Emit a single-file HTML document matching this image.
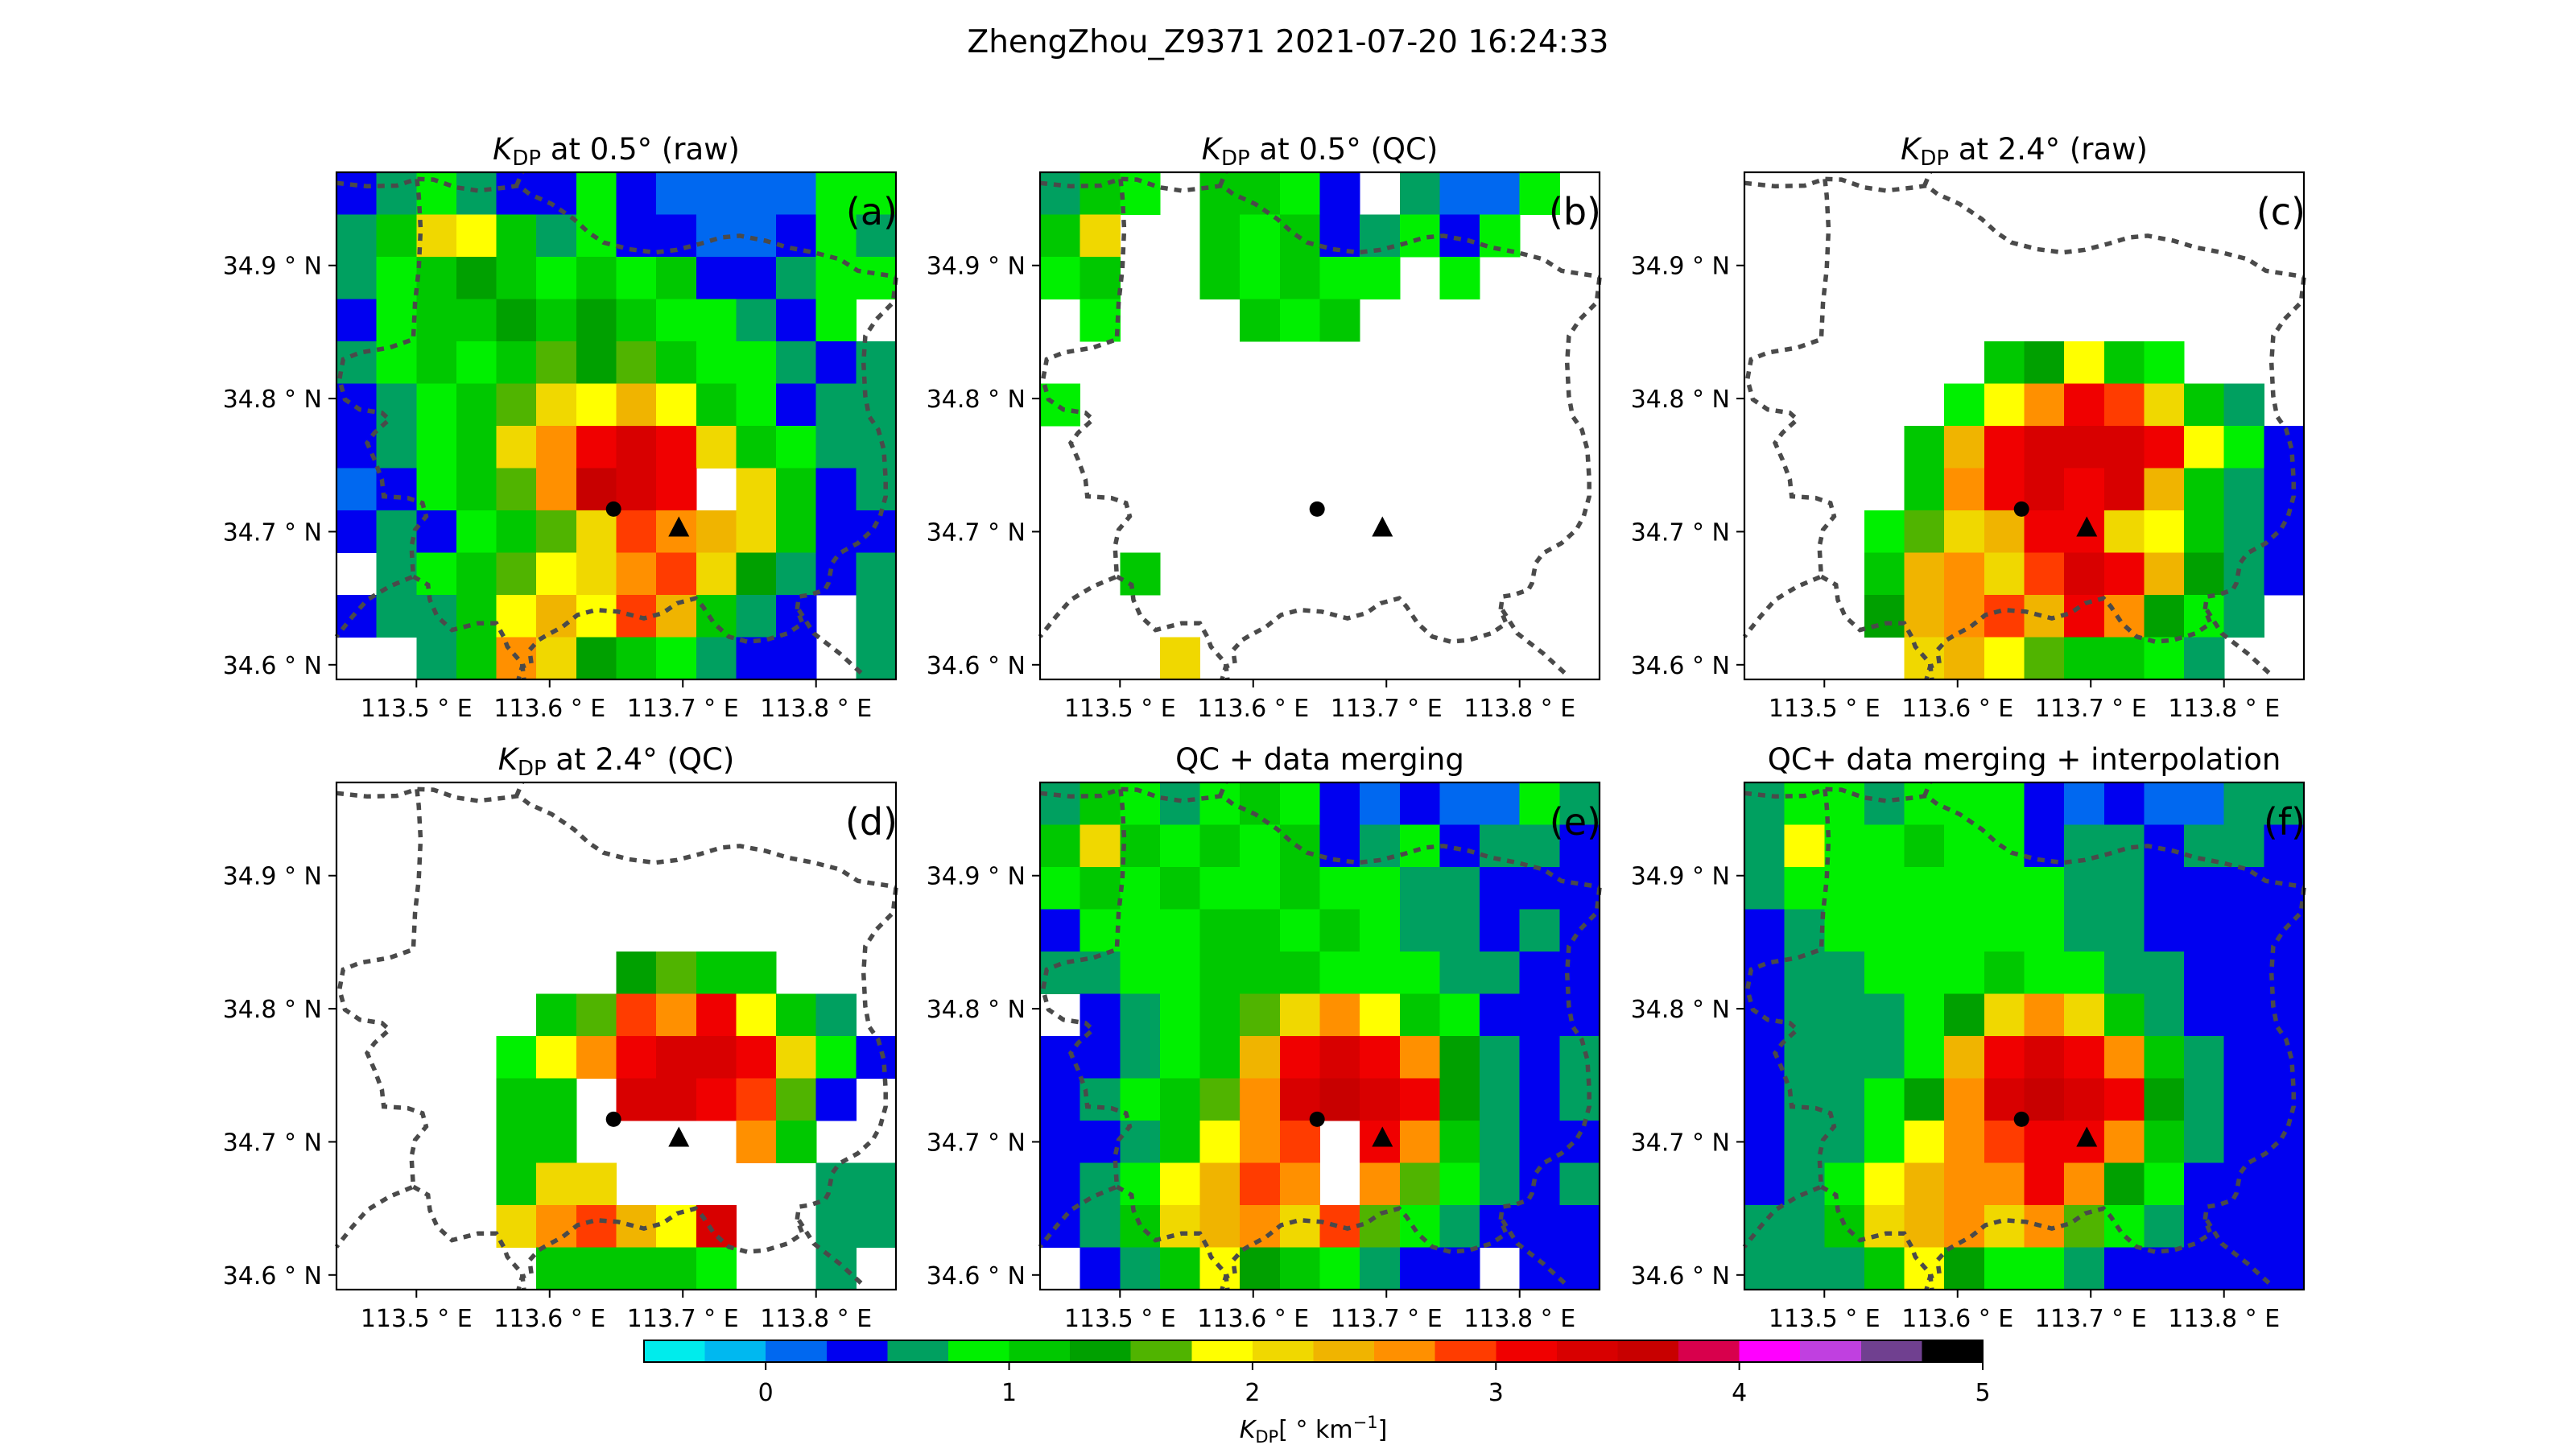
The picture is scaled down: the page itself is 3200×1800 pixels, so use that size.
<!DOCTYPE html>
<html><head><meta charset="utf-8"><style>
html,body{margin:0;padding:0;background:#fff}
svg{display:block;font-family:"DejaVu Sans","Liberation Sans",sans-serif}
</style></head><body>
<svg id="fig" width="3200" height="1800" viewBox="0 0 3200 1800" xmlns="http://www.w3.org/2000/svg">
<rect width="3200" height="1800" fill="#fff"/>
<text x="1600" y="65" font-size="39" text-anchor="middle">ZhengZhou_Z9371 2021-07-20 16:24:33</text>
<g id="panels"></g>
<g id="cbar"></g>
</svg>
<script>
const n = null;
const levels = [-0.5,-0.25,0,0.25,0.5,0.75,1,1.25,1.5,1.75,2,2.25,2.5,2.75,3,3.25,3.5,3.75,4,4.25,4.5,4.75,5];
const cmapColors = ["#00ecec","#00b8f0","#0068f0","#0000f0","#00a060","#00f000","#00c800","#00a000","#50b400","#ffff00","#f0d800","#f0b400","#ff9000","#ff3c00","#f00000","#d80000","#c80000","#d8004c","#ff00ff","#c040e0","#704090","#000000"];
const cbarTicks = [0,1,2,3,4,5];
const lonTicks = [113.5,113.6,113.7,113.8];
const latTicks = [34.6,34.7,34.8,34.9];
const lonRange = [113.44,113.86];
const latRange = [34.589,34.970];
const radarCircle = [113.648,34.717];
const radarTriangle = [113.697,34.703];

const gridA = [
[0.3,0.6,0.9,0.6,0.3,0.3,0.9,0.3,0.1,0.1,0.1,0.1,0.9,0.9],
[0.6,1.0,2.0,1.9,1.0,0.6,0.9,0.3,0.3,0.1,0.1,0.3,0.9,0.6],
[0.6,0.9,1.1,1.4,1.1,0.9,1.1,0.9,1.0,0.3,0.3,0.6,0.9,0.9],
[0.3,0.9,1.1,1.1,1.4,1.1,1.4,1.1,0.9,0.9,0.6,0.3,0.9,n],
[0.6,0.9,1.1,0.9,1.1,1.6,1.4,1.6,1.1,0.9,0.9,0.6,0.3,0.6],
[0.3,0.6,0.9,1.1,1.6,2.1,1.9,2.4,1.9,1.1,0.9,0.3,0.6,0.6],
[0.3,0.6,0.9,1.1,2.1,2.5,3.1,3.3,3.0,2.2,1.1,0.9,0.6,0.6],
[0.1,0.3,0.9,1.1,1.6,2.6,3.5,3.3,3.0,n,2.0,1.1,0.3,0.6],
[0.3,0.6,0.3,0.9,1.1,1.6,2.0,2.9,2.6,2.4,2.0,1.1,0.3,0.3],
[n,0.6,0.9,1.1,1.6,1.9,2.1,2.6,2.9,2.1,1.4,0.6,0.3,0.6],
[0.3,0.6,0.6,1.1,1.9,2.4,1.9,2.9,2.4,1.1,0.6,0.3,n,0.6],
[n,n,0.6,1.1,2.6,2.2,1.4,1.1,0.9,0.6,0.3,0.3,n,0.6]];
const gridB = [
[0.6,1.0,0.9,n,1.1,1.0,0.9,0.3,n,0.6,0.1,0.1,0.9,n],
[1.0,2.0,n,n,1.1,0.9,1.1,0.3,0.6,0.9,0.3,0.9,n,n],
[0.9,1.1,n,n,1.1,0.9,1.1,0.9,0.9,n,0.9,n,n,n],
[n,0.9,n,n,n,1.1,0.9,1.0,n,n,n,n,n,n],
[n,n,n,n,n,n,n,n,n,n,n,n,n,n],
[0.9,n,n,n,n,n,n,n,n,n,n,n,n,n],
[n,n,n,n,n,n,n,n,n,n,n,n,n,n],
[n,n,n,n,n,n,n,n,n,n,n,n,n,n],
[n,n,n,n,n,n,n,n,n,n,n,n,n,n],
[n,n,1.1,n,n,n,n,n,n,n,n,n,n,n],
[n,n,n,n,n,n,n,n,n,n,n,n,n,n],
[n,n,n,2.1,n,n,n,n,n,n,n,n,n,n]];
const gridC = [
[n,n,n,n,n,n,n,n,n,n,n,n,n,n],
[n,n,n,n,n,n,n,n,n,n,n,n,n,n],
[n,n,n,n,n,n,n,n,n,n,n,n,n,n],
[n,n,n,n,n,n,n,n,n,n,n,n,n,n],
[n,n,n,n,n,n,1.1,1.4,1.9,1.1,0.9,n,n,n],
[n,n,n,n,n,0.9,1.9,2.6,3.1,2.9,2.1,1.1,0.6,n],
[n,n,n,n,1.1,2.4,3.1,3.3,3.3,3.4,3.0,1.9,0.9,0.3],
[n,n,n,n,1.1,2.6,3.1,3.4,3.1,3.3,2.4,1.1,0.6,0.3],
[n,n,n,0.9,1.6,2.1,2.4,3.1,3.0,2.1,1.9,1.1,0.6,0.3],
[n,n,n,1.1,2.4,2.6,2.1,2.9,3.4,3.1,2.4,1.4,0.6,0.3],
[n,n,n,1.4,2.4,2.6,2.9,2.4,3.1,2.6,1.4,0.9,0.6,n],
[n,n,n,n,2.1,2.4,1.9,1.6,1.1,1.1,0.9,0.6,n,n]];
const gridD = [
[n,n,n,n,n,n,n,n,n,n,n,n,n,n],
[n,n,n,n,n,n,n,n,n,n,n,n,n,n],
[n,n,n,n,n,n,n,n,n,n,n,n,n,n],
[n,n,n,n,n,n,n,n,n,n,n,n,n,n],
[n,n,n,n,n,n,n,1.4,1.6,1.1,1.1,n,n,n],
[n,n,n,n,n,1.1,1.6,2.9,2.6,3.0,1.9,1.1,0.6,n],
[n,n,n,n,0.9,1.9,2.6,3.1,3.3,3.4,3.1,2.2,0.9,0.3],
[n,n,n,n,1.0,1.1,n,3.4,3.3,3.0,2.9,1.6,0.3,n],
[n,n,n,n,1.1,1.1,n,n,n,n,2.6,1.1,n,n],
[n,n,n,n,1.1,2.1,2.2,n,n,n,n,n,0.6,0.6],
[n,n,n,n,2.2,2.6,2.9,2.4,1.9,3.3,n,n,0.6,0.6],
[n,n,n,n,n,1.1,1.0,1.1,1.1,0.9,n,n,0.6,n]];
const gridE = [
[0.6,1.0,0.9,0.6,0.9,1.0,0.9,0.3,0.1,0.3,0.1,0.1,0.9,0.6],
[1.0,2.0,1.0,0.9,1.1,0.9,1.1,0.3,0.6,0.9,0.3,0.6,0.6,0.3],
[0.9,1.1,0.9,1.1,0.9,0.9,1.1,0.9,0.9,0.6,0.6,0.3,0.3,0.3],
[0.3,0.9,0.9,0.9,1.1,1.1,0.9,1.0,0.9,0.6,0.6,0.3,0.6,0.3],
[0.6,0.6,0.9,0.9,1.1,1.1,1.1,0.9,0.9,0.9,0.6,0.6,0.3,0.3],
[n,0.3,0.6,0.9,1.1,1.6,2.1,2.6,1.9,1.1,0.9,0.3,0.3,0.3],
[0.3,0.3,0.6,0.9,1.1,2.4,3.1,3.3,3.1,2.6,1.4,0.6,0.3,0.6],
[0.3,0.6,0.9,1.1,1.6,2.6,3.3,3.6,3.3,3.0,1.4,0.6,0.3,0.6],
[0.3,0.3,0.6,1.1,1.9,2.6,2.9,n,3.1,2.6,1.1,0.6,0.3,0.3],
[0.3,0.6,0.9,1.9,2.4,2.9,2.6,n,2.6,1.6,0.9,0.6,0.3,0.6],
[0.3,0.6,1.1,2.1,2.4,2.6,2.1,2.9,1.6,0.9,0.6,0.3,0.3,0.3],
[n,0.3,0.6,1.1,1.9,1.4,1.1,0.9,0.6,0.3,0.3,n,0.3,0.3]];
const gridF = [
[0.6,0.9,0.9,0.6,0.9,0.9,0.9,0.3,0.1,0.3,0.1,0.1,0.6,0.6],
[0.6,1.9,0.9,0.9,1.1,0.9,0.9,0.3,0.6,0.6,0.3,0.6,0.6,0.3],
[0.6,0.9,0.9,0.9,0.9,0.9,0.9,0.9,0.6,0.6,0.3,0.3,0.3,0.3],
[0.3,0.6,0.9,0.9,0.9,0.9,0.9,0.9,0.6,0.6,0.3,0.3,0.3,0.3],
[0.3,0.6,0.6,0.9,0.9,0.9,1.1,0.9,0.9,0.6,0.6,0.3,0.3,0.3],
[0.3,0.6,0.6,0.6,0.9,1.4,2.1,2.6,2.1,1.1,0.6,0.3,0.3,0.3],
[0.3,0.6,0.6,0.6,0.9,2.4,3.1,3.3,3.1,2.6,1.1,0.6,0.3,0.3],
[0.3,0.6,0.6,0.9,1.4,2.6,3.4,3.7,3.3,3.0,1.4,0.6,0.3,0.3],
[0.3,0.6,0.6,0.9,1.9,2.6,2.9,3.1,3.1,2.6,1.1,0.6,0.3,0.3],
[0.3,0.6,0.9,1.9,2.4,2.6,2.6,3.1,2.6,1.4,0.9,0.3,0.3,0.3],
[0.6,0.6,1.1,2.1,2.4,2.6,2.1,2.6,1.6,0.9,0.6,0.3,0.3,0.3],
[0.6,0.6,0.6,1.1,1.9,1.4,0.9,0.9,0.6,0.3,0.3,0.3,0.3,0.3]];

// boundary polylines in (fraction x, fraction y) of the map extent
const boundaryLines = [
[[37,62],[120,72],[200,70],[255,50],[300,52],[360,75],[420,85],[500,75],[530,70],[560,95],[620,125],[680,170],[720,210],[760,240],[830,260],[900,270],[960,262],[1020,245],[1080,225],[1130,220],[1200,235],[1260,255],[1330,270],[1400,290],[1450,325],[1540,340],[1553,345]],
[[525,70],[540,30]],
[[1553,345],[1545,420],[1500,470],[1470,520],[1465,600],[1470,700],[1480,760],[1505,800],[1520,860],[1525,950],[1525,1000],[1510,1060],[1490,1100],[1450,1140],[1400,1170],[1380,1200],[1370,1260],[1360,1280],[1320,1295],[1290,1300],[1285,1340],[1300,1380],[1260,1410],[1200,1430],[1150,1435],[1100,1420],[1060,1380],[1030,1330],[1010,1305],[960,1320],[920,1350],[870,1365],[800,1345],[740,1340],[690,1355],[650,1390],[600,1420],[585,1430],[560,1460],[565,1500],[540,1510],[530,1548]],
[[255,50],[260,100],[265,200],[260,320],[250,420],[245,530],[180,555],[100,570],[55,590],[45,650],[60,710],[100,740],[160,750],[180,770],[140,810],[120,840],[140,890],[160,950],[165,1000],[230,1005],[270,1020],[280,1060],[250,1100],[240,1150],[245,1240],[180,1270],[120,1310],[80,1360],[37,1420]],
[[245,1240],[285,1265],[290,1310],[310,1360],[350,1400],[420,1380],[470,1380],[490,1420],[500,1450],[540,1500],[545,1548]],
[[1290,1340],[1330,1410],[1400,1470],[1470,1540]]];

const panels = [
 {id:"a", x:418, y:214, grid:gridA, title:["at 0.5° (raw)",true]},
 {id:"b", x:1292, y:214, grid:gridB, title:["at 0.5° (QC)",true]},
 {id:"c", x:2167, y:214, grid:gridC, title:["at 2.4° (raw)",true]},
 {id:"d", x:418, y:972, grid:gridD, title:["at 2.4° (QC)",true]},
 {id:"e", x:1292, y:972, grid:gridE, title:["QC + data merging",false]},
 {id:"f", x:2167, y:972, grid:gridF, title:["QC+ data merging + interpolation",false]}];
const PW = 695, PH = 630;
const NS = "http://www.w3.org/2000/svg";
function mk(tag, attrs, parent){const e=document.createElementNS(NS,tag);for(const k in attrs)e.setAttribute(k,attrs[k]);if(parent)parent.appendChild(e);return e;}
function colorOf(v){let i=Math.floor((v-levels[0])/(levels[1]-levels[0]));i=Math.max(0,Math.min(cmapColors.length-1,i));return cmapColors[i];}

const root = document.getElementById("panels");
panels.forEach(p=>{
  const g = mk("g",{},root);
  
  
  const xs = lon => p.x + (lon-lonRange[0])/(lonRange[1]-lonRange[0])*PW;
  const ys = lat => p.y + (latRange[1]-lat)/(latRange[1]-latRange[0])*PH;
  const rows = p.grid.length, cols = p.grid[0].length;
  const cw = PW/cols, ch = PH/rows;
  const cells = mk("g",{"shape-rendering":"crispEdges"},g);
  
  
  p.grid.forEach((row,r)=>row.forEach((v,c)=>{
    if(v===null) return;
    const rc = mk("rect",{x:(p.x+c*cw).toFixed(2),y:(p.y+r*ch).toFixed(2),width:(cw+0.6).toFixed(2),height:(ch+0.6).toFixed(2),fill:colorOf(v)},cells);
    
    
  }));
  // boundaries
  const bg = mk("g",{fill:"none",stroke:"#4a4a4a","stroke-width":"5.5","stroke-dasharray":"9 8"},g);
  
  
  boundaryLines.forEach(line=>{
    const pts = line.map(([a,b])=>{const fx=(a-37)/1516, fy=(b-30)/1518;return (p.x+fx*PW).toFixed(1)+","+(p.y+fy*PH).toFixed(1);}).join(" ");
    mk("polyline",{points:pts},bg);
  });
  // markers
  const cx = xs(radarCircle[0]), cy = ys(radarCircle[1]);
  const cm = mk("circle",{cx:cx,cy:cy,r:9.5,fill:"#000"},g);
  
  
  const tx = xs(radarTriangle[0]), ty = ys(radarTriangle[1]);
  const tm = mk("polygon",{points:`${tx},${ty-14} ${tx-13},${ty+11} ${tx+13},${ty+11}`,fill:"#000"},g);
  
  
  // frame
  const fr = mk("rect",{x:p.x,y:p.y,width:PW,height:PH,fill:"none",stroke:"#000","stroke-width":"2.2"},g);
  
  
  // ticks
  lonTicks.forEach(t=>{
    const x = xs(t);
    mk("line",{x1:x,y1:p.y+PH,x2:x,y2:p.y+PH+10,stroke:"#000","stroke-width":"2"},g);
    const tl = mk("text",{x:x,y:p.y+PH+46,"font-size":"30","text-anchor":"middle"},g);
    tl.textContent = t.toFixed(1)+" ° E";
    
    
  });
  latTicks.forEach(t=>{
    const y = ys(t);
    mk("line",{x1:p.x-10,y1:y,x2:p.x,y2:y,stroke:"#000","stroke-width":"2"},g);
    const tl = mk("text",{x:p.x-18,y:y+11,"font-size":"30","text-anchor":"end"},g);
    tl.textContent = t.toFixed(1)+" ° N";
    
    
  });
  // panel label
  const pl = mk("text",{x:p.x+PW+2,y:p.y+65,"font-size":"46","text-anchor":"end"},g);
  pl.textContent = "("+p.id+")";
  
  
  // title
  const tt = mk("text",{x:p.x+PW/2,y:p.y-16,"font-size":"37","text-anchor":"middle"},g);
  
  
  if(p.title[1]){
    const k = mk("tspan",{"font-style":"italic"},tt); k.textContent="K";
    const s = mk("tspan",{"font-size":"26",dy:"7"},tt); s.textContent="DP";
    const r = mk("tspan",{dy:"-7"},tt); r.textContent=" "+p.title[0];
  } else tt.textContent = p.title[0];
});

// colorbar
const cb = document.getElementById("cbar");


const CX0=800, CX1=2463, CY=1665, CH=27;
const cbx = v => CX0 + (v-levels[0])/(levels[levels.length-1]-levels[0])*(CX1-CX0);
const cbg = mk("g",{"shape-rendering":"crispEdges"},cb);
cmapColors.forEach((c,i)=>{
  const r = mk("rect",{x:cbx(levels[i]),y:CY,width:cbx(levels[i+1])-cbx(levels[i])+0.5,height:CH,fill:c},cbg);
  
  
});
mk("rect",{x:CX0,y:CY,width:CX1-CX0,height:CH,fill:"none",stroke:"#000","stroke-width":"2"},cb);
cbarTicks.forEach(t=>{
  const x = cbx(t);
  mk("line",{x1:x,y1:CY+CH,x2:x,y2:CY+CH+10,stroke:"#000","stroke-width":"2"},cb);
  const tl = mk("text",{x:x,y:CY+CH+48,"font-size":"30","text-anchor":"middle"},cb);
  tl.textContent = String(t);
  
  
});
const cl = mk("text",{x:(CX0+CX1)/2,y:1786,"font-size":"30","text-anchor":"middle"},cb);


const k1 = mk("tspan",{"font-style":"italic"},cl); k1.textContent="K";
const k2 = mk("tspan",{"font-size":"21",dy:"6"},cl); k2.textContent="DP";
const k3 = mk("tspan",{dy:"-6"},cl); k3.textContent="[ ° km";
const k4 = mk("tspan",{"font-size":"21",dy:"-12"},cl); k4.textContent="−1";
const k5 = mk("tspan",{dy:"12"},cl); k5.textContent="]";
</script>
</body></html>
